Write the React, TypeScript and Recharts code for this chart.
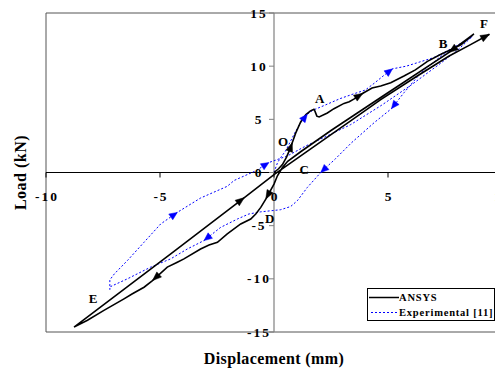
import React from 'react';
import {
  LineChart,
  Line,
  XAxis,
  YAxis,
  ReferenceLine,
  ReferenceArea,
  ReferenceDot,
  Legend,
} from 'recharts';

// ---------- data ----------
// ANSYS: O -> A -> B (peak)
const ansysLoading: number[][] = [
  [0, 0], [0.2, 0.35], [0.37, 0.75], [0.55, 1.45], [0.7, 2.2], [0.8, 2.8], [0.95, 3.7],
  [1.17, 4.75], [1.4, 5.45], [1.6, 5.8], [1.75, 5.95], [1.8, 5.75], [1.88, 5.3], [1.98, 5.22],
  [2.34, 5.6], [2.63, 6.0], [3.07, 6.5], [3.3, 6.65], [3.5, 6.9], [3.9, 7.45], [4.3, 7.95],
  [4.68, 8.13], [5.12, 8.45], [5.7, 9.07], [6.2, 9.65], [6.73, 10.45], [7.3, 11.1], [8.2, 12.0],
  [8.77, 13.04],
];
// ANSYS: B -> C -> D -> E
const ansysUnloading: number[][] = [
  [7.68, 11.3], [4.68, 7.05], [2.5, 3.95], [1.2, 2.0], [0.6, 1.05], [0.37, 0.47], [0.15, -0.31],
  [0, -1.09], [-0.18, -1.8], [-0.36, -2.5], [-0.58, -3.28], [-0.8, -3.9], [-1.02, -4.38],
  [-1.46, -4.84], [-2.05, -5.78], [-2.48, -6.56], [-2.85, -6.81], [-3.22, -7.19], [-3.95, -8.12],
  [-4.24, -8.44], [-4.68, -8.9], [-5.33, -10.16], [-5.7, -10.79], [-6.21, -11.4], [-6.58, -11.88],
  [-7.46, -12.97], [-8.18, -13.9], [-8.77, -14.54],
];
// ANSYS: E -> F
const ansysReloading: number[][] = [
  [-4.5, -7.6], [-1.3, -2.36], [0, -0.2], [1.0, 1.3], [3.36, 4.85], [4.68, 6.85], [6.3, 9.1],
  [7.68, 10.95], [8.6, 12.0], [9.45, 13.0],
];
const ansysArrows: number[][] = [
  [0.8, 2.8], [3.9, 7.45], [7.68, 11.3], [-0.36, -2.5], [-5.33, -10.16], [-1.3, -2.36], [9.45, 13.0],
];

// Experimental [11]
const expLoading: number[][] = [
  [0, 0], [0.15, 0.9], [0.29, 1.4], [0.5, 2.0], [0.66, 2.66], [0.88, 3.6], [1.17, 4.69],
  [1.46, 5.48], [1.7, 5.85], [2.2, 6.3], [2.9, 6.95], [3.5, 7.4], [4.0, 7.75], [4.4, 8.4],
  [4.8, 9.1], [5.2, 9.75], [5.8, 10.0], [6.4, 10.4], [7.0, 10.8], [7.75, 11.6], [8.4, 12.4],
  [8.7, 12.8],
];
const expUnloading: number[][] = [
  [8.0, 11.85], [7.3, 10.9], [6.45, 9.4], [5.7, 7.5], [5.15, 6.0], [4.4, 4.7], [3.4, 2.8],
  [2.7, 1.3], [2.05, 0], [1.46, -1.41], [1.02, -2.66], [0.73, -3.2], [0.29, -3.5], [-0.58, -3.7],
  [-1.1, -3.9], [-1.6, -4.37], [-2.34, -5.16], [-3.07, -6.4], [-3.8, -7.19], [-4.53, -8.12],
  [-5.41, -8.9], [-6.43, -10.0], [-7.16, -10.72], [-7.2, -11.0],
];
const expReloading: number[][] = [
  [-7.2, -10.1], [-7.0, -9.53], [-6.43, -8.28], [-5.7, -6.56], [-4.97, -4.84], [-4.24, -3.75],
  [-3.22, -2.4], [-2.05, -1.3], [-1.75, -0.75], [-0.8, 0.16], [-0.22, 0.94], [0.59, 1.56],
  [1.4, 2.5], [2.2, 3.3], [3.36, 4.5], [4.7, 6.3], [6.0, 8.2], [7.2, 10.1], [8.0, 11.4], [8.7, 12.8],
];
const expArrows: number[][] = [
  [1.46, 5.48], [5.2, 9.75], [5.15, 6.0], [2.05, 0], [-3.07, -6.4], [-4.24, -3.75], [-0.22, 0.94],
];

const xTicks = [-10, -5, 0, 5, 10];
const yTicks = [-15, -10, -5, 0, 5, 10, 15];

const pointLabels = [
  { t: 'O', x: 0.4, y: 2.93 },
  { t: 'A', x: 2.0, y: 7.0 },
  { t: 'B', x: 7.42, y: 12.12 },
  { t: 'F', x: 9.21, y: 14.0 },
  { t: 'C', x: 1.32, y: 0.25 },
  { t: 'D', x: -0.19, y: -4.3 },
  { t: 'E', x: -7.94, y: -11.88 },
];

const toPts = (arr: number[][]) => arr.map(([x, y]) => ({ x, y }));
const ansysData = toPts([...ansysLoading, ...ansysUnloading, ...ansysReloading]);
const expData = toPts([...expLoading, ...expUnloading, ...expReloading]);

// ---------- styles ----------
const SERIF = '"Liberation Serif", "Times New Roman", serif';
const tickFont: React.CSSProperties = {
  fontFamily: SERIF,
  fontWeight: 'bold',
  fontSize: 13.5,
  letterSpacing: 2,
};
const BLUE = '#0000FF';

function makeArrowDot(arrows: number[][], color: string, len: number, half: number) {
  const cache: Record<number, { x: number; y: number }> = {};
  return (props: any) => {
    const { cx, cy, index, payload, points } = props;
    cache[index] = { x: cx, y: cy };
    const key = `ad-${index}`;
    const isArrow = arrows.some((a) => a[0] === payload?.x && a[1] === payload?.y);
    if (!isArrow || index === 0 || cx == null || cy == null) return <g key={key} />;
    const prev = (points && points[index - 1]) || cache[index - 1];
    if (!prev) return <g key={key} />;
    const ang = Math.atan2(cy - prev.y, cx - prev.x);
    const c = Math.cos(ang);
    const s = Math.sin(ang);
    const bx = cx - c * len;
    const by = cy - s * len;
    const p1 = `${cx},${cy}`;
    const p2 = `${bx - s * half},${by + c * half}`;
    const p3 = `${bx + s * half},${by - c * half}`;
    return <polygon key={key} points={`${p1} ${p2} ${p3}`} fill={color} stroke={color} strokeWidth={0.5} />;
  };
}

const ansysDot = makeArrowDot(ansysArrows, '#000', 9, 3.5);
const expDot = makeArrowDot(expArrows, BLUE, 8, 3.5);

const XTickShape = (value: number) => (p: any) => (
  <g>
    <line x1={p.cx} y1={p.cy} x2={p.cx} y2={p.cy + 5} stroke="#000" strokeWidth={1} />
    <text x={p.cx + 1} y={p.cy + 28} textAnchor="middle" style={tickFont} fill="#000">
      {value}
    </text>
  </g>
);

const YTickShape = (value: number) => (p: any) => (
  <g>
    <line x1={p.cx - 5} y1={p.cy} x2={p.cx} y2={p.cy} stroke="#808080" strokeWidth={1} />
    <text x={p.cx - 15} y={p.cy + 4.5} textAnchor="middle" style={tickFont} fill="#000">
      {value}
    </text>
  </g>
);

const LetterShape = (t: string) => (p: any) => (
  <text
    x={p.cx}
    y={p.cy + 4.5}
    textAnchor="middle"
    fill="#000"
    style={{ fontFamily: SERIF, fontWeight: 'bold', fontSize: 13 }}
  >
    {t}
  </text>
);

const YTitle = (props: any) => {
  const vb = props.viewBox || { x: 0, y: 5, width: 38, height: 319 };
  const x = vb.x + 12;
  const y = vb.y + vb.height / 2;
  return (
    <text
      x={x}
      y={y}
      transform={`rotate(-90, ${x}, ${y})`}
      textAnchor="middle"
      dominantBaseline="central"
      fill="#000"
      style={{ fontFamily: SERIF, fontWeight: 'bold', fontSize: 16, letterSpacing: 0.5 }}
    >
      Load (kN)
    </text>
  );
};

const XTitle = (props: any) => {
  const vb = props.viewBox || { x: 38, y: 324, width: 456, height: 39 };
  return (
    <text
      x={vb.x + vb.width / 2}
      y={vb.y + vb.height - 7}
      textAnchor="middle"
      fill="#000"
      style={{ fontFamily: SERIF, fontWeight: 'bold', fontSize: 16, letterSpacing: 0.4 }}
    >
      Displacement (mm)
    </text>
  );
};

const renderLegend = () => (
  <div
    style={{
      width: 128,
      height: 33,
      border: '1px solid #000',
      boxSizing: 'border-box',
      background: '#fff',
      fontFamily: SERIF,
      fontWeight: 'bold',
      fontSize: 10.5,
      letterSpacing: 0.8,
      paddingTop: 1,
      color: '#000',
    }}
  >
    <div style={{ display: 'flex', alignItems: 'center', height: 15 }}>
      <svg width={31} height={15} style={{ display: 'block' }}>
        <line x1={1} y1={7.5} x2={31} y2={7.5} stroke="#000" strokeWidth={1.5} />
      </svg>
      <span style={{ lineHeight: '15px' }}>ANSYS</span>
    </div>
    <div style={{ display: 'flex', alignItems: 'center', height: 15 }}>
      <svg width={31} height={15} style={{ display: 'block' }}>
        <line x1={3} y1={7.5} x2={31} y2={7.5} stroke={BLUE} strokeWidth={1} strokeDasharray="2 2" />
      </svg>
      <span style={{ lineHeight: '15px' }}>Experimental [11]</span>
    </div>
  </div>
);

export default function App() {
  return (
    <LineChart width={495} height={363} margin={{ top: 5, right: 1, left: 0, bottom: 0 }}>
      <XAxis
        type="number"
        dataKey="x"
        domain={[-10, 10]}
        ticks={xTicks}
        allowDataOverflow
        tick={false}
        tickLine={false}
        axisLine={false}
        height={39}
        label={<XTitle />}
      />
      <YAxis
        type="number"
        dataKey="y"
        domain={[-15, 15]}
        ticks={yTicks}
        allowDataOverflow
        tick={false}
        tickLine={false}
        axisLine={false}
        width={38}
        label={<YTitle />}
      />
      <ReferenceArea x1={-10} x2={10} y1={-15} y2={15} fill="none" stroke="#555" strokeWidth={1} />
      <ReferenceLine x={0} stroke="#808080" strokeWidth={1.2} />
      <ReferenceLine y={0} stroke="#000" strokeWidth={1} />
      {xTicks.map((t) => (
        <ReferenceDot key={`xt${t}`} x={t} y={0} r={0} shape={XTickShape(t)} />
      ))}
      {yTicks.map((t) => (
        <ReferenceDot key={`yt${t}`} x={0} y={t} r={0} shape={YTickShape(t)} />
      ))}
      <Line
        data={expData}
        dataKey="y"
        name="Experimental [11]"
        type="linear"
        stroke={BLUE}
        strokeWidth={1}
        strokeDasharray="2 2"
        dot={expDot}
        activeDot={false}
        isAnimationActive={false}
      />
      <Line
        data={ansysData}
        dataKey="y"
        name="ANSYS"
        type="linear"
        stroke="#000"
        strokeWidth={1.6}
        dot={ansysDot}
        activeDot={false}
        isAnimationActive={false}
      />
      {pointLabels.map((l) => (
        <ReferenceDot key={`pl${l.t}`} x={l.x} y={l.y} r={0} shape={LetterShape(l.t)} />
      ))}
      <Legend
        layout="vertical"
        align="center"
        verticalAlign="middle"
        content={renderLegend}
        wrapperStyle={{ left: 359, top: 280, width: 128, height: 33 }}
      />
    </LineChart>
  );
}
